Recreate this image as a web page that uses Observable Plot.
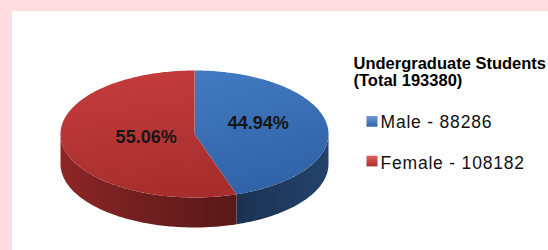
<!DOCTYPE html>
<html>
<head>
<meta charset="utf-8">
<script src="https://cdn.jsdelivr.net/npm/d3@7"></script>
<script src="https://cdn.jsdelivr.net/npm/@observablehq/plot@0.6"></script>
<style>
  html, body { margin: 0; padding: 0; }
  body { width: 548px; height: 250px; background: #ffdde0; position: relative; overflow: hidden; font-family: "Liberation Sans", Arial, sans-serif; }
  #panel { position: absolute; left: 12px; top: 11px; width: 548px; height: 260px; background: #ffffff; }
  #chart { position: absolute; left: 0; top: 0; }
</style>
</head>
<body>
<div id="panel"></div>
<div id="chart"></div>
<script>
// ---- data ----
const categories = ["Male", "Female"];
const counts = [88286, 108182];
const percentLabels = ["44.94%", "55.06%"];
const legendTitle = ["Undergraduate Students", "(Total 193380)"];
const legendLabels = ["Male - 88286", "Female - 108182"];

// ---- layout ----
const W = 548, H = 250;
const cx = 194, cy = 133.5, rx = 134, ry = 63.5, depth = 30;
const topFills = ["url(#blueTop)", "url(#redTop)"];
const sideFills = ["url(#blueSide)", "url(#redSide)"];
const markerFills = ["url(#blueMark)", "url(#redMark)"];

const total = d3.sum(counts);
const deg = Math.PI / 180;
function pt(theta, dz) {
  return {x: cx + rx * Math.sin(theta), y: cy - ry * Math.cos(theta) + (dz || 0)};
}
function arcPts(a0, a1, dz) {
  const n = Math.max(2, Math.ceil(Math.abs(a1 - a0) / deg));
  const out = [];
  for (let i = 0; i <= n; i++) out.push(pt(a0 + (a1 - a0) * i / n, dz));
  return out;
}

// slice angles (clockwise from 12 o'clock)
let acc = 0;
const slices = categories.map((c, i) => {
  const a0 = acc / total * 2 * Math.PI;
  acc += counts[i];
  const a1 = acc / total * 2 * Math.PI;
  return {cat: c, i, a0, a1};
});

const topMarks = [], sideMarks = [];
for (const s of slices) {
  const topPoly = [{x: cx, y: cy}, ...arcPts(s.a0, s.a1), {x: cx, y: cy}];
  topMarks.push(Plot.line(topPoly, {x: "x", y: "y", fill: topFills[s.i], stroke: "none"}));
  const v0 = Math.max(s.a0, Math.PI / 2), v1 = Math.min(s.a1, 3 * Math.PI / 2);
  if (v1 > v0) {
    const sidePoly = [...arcPts(v0, v1, 0), ...arcPts(v1, v0, depth)];
    sideMarks.push(Plot.line(sidePoly, {x: "x", y: "y", fill: sideFills[s.i], stroke: "none"}));
  }
}

// percentage labels near sector centroids
const labelData = slices.map(s => {
  const half = (s.a1 - s.a0) / 2;
  const mid = (s.a0 + s.a1) / 2;
  const k = 2 * Math.sin(half) / (3 * half);
  return {x: cx + k * rx * Math.sin(mid) + 2, y: cy - 1.6 * k * ry * Math.cos(mid) - 3, text: percentLabels[s.i]};
});

// legend
const legX = 353, itemX = 380, markX0 = 366.5, markX1 = 377.5;
const titleData = legendTitle.map((t, i) => ({x: legX, y: 63 + i * 17.2, text: t}));
const itemData = legendLabels.map((t, i) => ({x: itemX, y: 122.1 + i * 40.6, text: t}));
const markData = legendLabels.map((t, i) => ({x1: markX0, x2: markX1, y1: 116 + i * 39.7, y2: 126.7 + i * 39.7, fill: markerFills[i]}));

const svg = Plot.plot({
  width: W, height: H,
  margin: 0,
  x: {domain: [0, W], axis: null},
  y: {domain: [H, 0], axis: null},
  style: {background: "transparent", fontFamily: "'Liberation Sans', Arial, sans-serif", overflow: "visible"},
  marks: [
    ...sideMarks,
    ...topMarks,
    Plot.text(labelData, {x: "x", y: "y", text: "text", fontSize: 18, fontWeight: "bold", fill: "#161616", textAnchor: "middle"}),
    Plot.text(titleData, {x: "x", y: "y", text: "text", fontSize: 16.5, fontWeight: "bold", fill: "#000", textAnchor: "start"}),
    Plot.text(itemData, {x: "x", y: "y", text: "text", fontSize: 17.5, fill: "#111", textAnchor: "start"}),
    Plot.rect(markData, {x1: "x1", x2: "x2", y1: "y1", y2: "y2", fill: d => d.fill, stroke: "none"})
  ]
});

svg.insertAdjacentHTML("afterbegin", `
<defs>
  <linearGradient id="blueTop" x1="0" y1="0" x2="0.3" y2="1">
    <stop offset="0" stop-color="#427bc2"/>
    <stop offset="1" stop-color="#3163a8"/>
  </linearGradient>
  <linearGradient id="redTop" x1="0" y1="0" x2="0.2" y2="1">
    <stop offset="0" stop-color="#c63d3e"/>
    <stop offset="1" stop-color="#a82e2e"/>
  </linearGradient>
  <linearGradient id="blueSide" x1="0" y1="0" x2="1" y2="0">
    <stop offset="0" stop-color="#1b3252"/>
    <stop offset="1" stop-color="#24426a"/>
  </linearGradient>
  <linearGradient id="redSide" x1="0" y1="0" x2="1" y2="0">
    <stop offset="0" stop-color="#8e2626"/>
    <stop offset="0.5" stop-color="#6f1e1e"/>
    <stop offset="1" stop-color="#5a1818"/>
  </linearGradient>
  <linearGradient id="blueMark" x1="0" y1="0" x2="0" y2="1">
    <stop offset="0" stop-color="#6b9ad6"/>
    <stop offset="1" stop-color="#2f63aa"/>
  </linearGradient>
  <linearGradient id="redMark" x1="0" y1="0" x2="0" y2="1">
    <stop offset="0" stop-color="#e06060"/>
    <stop offset="1" stop-color="#b02a2a"/>
  </linearGradient>
</defs>`);

d3.select(svg).selectAll("text")
  .filter(function() { return legendLabels.includes(this.textContent); })
  .style("letter-spacing", "0.8px");

document.getElementById("chart").appendChild(svg);
</script>
</body>
</html>
